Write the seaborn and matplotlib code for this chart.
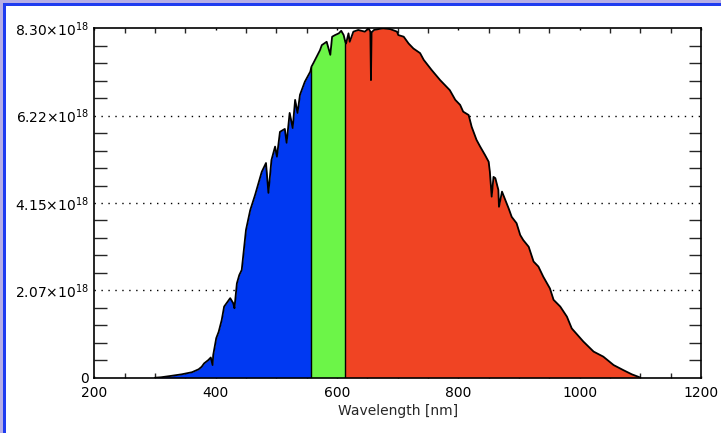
import numpy as np
import pandas as pd
import matplotlib
matplotlib.use("Agg")
import matplotlib.pyplot as plt
from matplotlib.patches import Rectangle
from matplotlib.ticker import FixedLocator, MultipleLocator
import seaborn as sns

# ---- data (spectral irradiance, units of 1e18) ----
wavelength = [300, 310, 325, 344, 361, 372, 377, 381, 388, 392, 395, 396, 401, 405, 410, 414,
              424, 429, 431, 435, 439, 443, 450, 457, 465, 476, 483, 487, 492, 498, 501, 506,
              514, 517, 522, 527, 531, 535, 539, 547, 556, 558, 561, 572, 575, 583, 589, 592,
              597, 603, 607, 611, 614, 615, 619, 621, 627, 635, 646, 652, 655, 656, 657, 661,
              668, 676, 688, 699, 701, 710, 718, 726, 737, 743, 756, 770, 786, 795, 803, 808,
              817, 822, 830, 836, 844, 850, 852, 855, 858, 861, 866, 867, 872, 883, 888, 896,
              902, 907, 916, 924, 932, 940, 951, 957, 968, 979, 987, 1006, 1023, 1039, 1056,
              1072, 1086, 1097, 1100]
irradiance = [0.0, 0.01, 0.04, 0.08, 0.13, 0.20, 0.26, 0.34, 0.42, 0.48, 0.30, 0.54, 0.94, 1.09,
              1.37, 1.69, 1.89, 1.77, 1.65, 2.24, 2.44, 2.56, 3.51, 3.98, 4.34, 4.89, 5.10, 4.39,
              5.17, 5.49, 5.25, 5.84, 5.91, 5.58, 6.29, 5.93, 6.60, 6.29, 6.72, 7.03, 7.27, 7.39,
              7.47, 7.78, 7.90, 7.98, 7.67, 8.10, 8.14, 8.18, 8.24, 8.14, 7.96, 7.94, 8.18, 7.98,
              8.22, 8.26, 8.22, 8.30, 8.22, 7.07, 8.20, 8.26, 8.28, 8.30, 8.28, 8.22, 8.14, 8.10,
              7.94, 7.82, 7.71, 7.55, 7.31, 7.07, 6.83, 6.60, 6.48, 6.32, 6.24, 5.96, 5.65, 5.49,
              5.29, 5.13, 4.89, 4.30, 4.77, 4.74, 4.46, 4.06, 4.42, 4.02, 3.82, 3.67, 3.39, 3.27,
              3.11, 2.76, 2.64, 2.40, 2.12, 1.85, 1.69, 1.45, 1.17, 0.86, 0.62, 0.50, 0.30, 0.18,
              0.08, 0.02, 0.0]

band_edges = [558, 614]
band_colors = ["#0039f2", "#6cf548", "#f04423"]

y_max = 8.30
y_ticks = [0, 2.075, 4.15, 6.225, 8.30]
y_tick_labels = ["0", r"2.07$\times$10$^{18}$", r"4.15$\times$10$^{18}$",
                 r"6.22$\times$10$^{18}$", r"8.30$\times$10$^{18}$"]
x_ticks = [200, 400, 600, 800, 1000, 1200]
x_label = "Wavelength [nm]"

df = pd.DataFrame({"wl": wavelength, "val": irradiance})

sns.set_theme(style="white")
plt.rcParams["font.family"] = ["DejaVu Sans"]

fig = plt.figure(figsize=(7.21, 4.33), dpi=100)
fig.patch.set_facecolor("white")
W, H = 721, 433
ax = fig.add_axes([94.3 / W, 1 - 377.7 / H, (701 - 94.3) / W, (377.7 - 28.3) / H])
ax.set_facecolor("white")

# dotted grid lines at major y ticks (behind fill)
for yt in y_ticks[1:-1]:
    ax.axhline(yt, color="black", lw=1.0, ls=(0, (1, 4)), zorder=0.5)

wl = df["wl"].to_numpy()
val = df["val"].to_numpy()
masks = [wl <= band_edges[0],
         (wl >= band_edges[0]) & (wl <= band_edges[1]),
         wl >= band_edges[1]]
for m, c in zip(masks, band_colors):
    ax.fill_between(wl[m], 0, val[m], color=c, lw=0, zorder=1)

sns.lineplot(data=df, x="wl", y="val", sort=False, estimator=None,
             color="black", lw=1.3, ax=ax, zorder=3)
for e in band_edges:
    v = df.loc[df["wl"] == e, "val"].iloc[0]
    ax.plot([e, e], [0, v], color="black", lw=1.0, zorder=2)

ax.set_xlim(200, 1200)
ax.set_ylim(0, y_max)
ax.set_xlabel(x_label, fontsize=10, labelpad=3)
ax.set_ylabel("")

ax.xaxis.set_major_locator(FixedLocator(x_ticks))
ax.xaxis.set_minor_locator(MultipleLocator(50))
ax.set_xticklabels([str(t) for t in x_ticks], fontsize=10)
ax.yaxis.set_major_locator(FixedLocator(y_ticks))
ax.set_yticklabels(y_tick_labels, fontsize=10)
ax.yaxis.set_minor_locator(MultipleLocator(y_max / 20))

ax.tick_params(axis="x", which="major", direction="in", length=1.5, width=1,
               top=True, bottom=True, pad=6, colors="black")
ax.tick_params(axis="x", which="minor", direction="in", length=3.5, width=1,
               top=True, bottom=True)
ax.tick_params(axis="y", which="major", direction="in", length=0, left=True,
               right=True, pad=4, colors="black")
ax.tick_params(axis="y", which="minor", direction="in", length=9, width=1,
               left=True, right=True)
for s in ax.spines.values():
    s.set_color("black")
    s.set_linewidth(1.2)
    s.set_visible(True)

# window-frame decoration
fig.patches.append(Rectangle((0, 0), 3 / W, 1, transform=fig.transFigure,
                             facecolor="#b6aee6", edgecolor="none", zorder=-1))
fig.patches.append(Rectangle((0, 1 - 3 / H), 1, 3 / H, transform=fig.transFigure,
                             facecolor="#b6aee6", edgecolor="none", zorder=-1))
fig.patches.append(Rectangle((3 / W, 0), 3 / W, 1 - 3 / H, transform=fig.transFigure,
                             facecolor="#1f3cf0", edgecolor="none", zorder=-1))
fig.patches.append(Rectangle((3 / W, 1 - 6 / H), 1 - 3 / W, 3 / H, transform=fig.transFigure,
                             facecolor="#1f3cf0", edgecolor="none", zorder=-1))

fig.savefig("out.png", dpi=100)
